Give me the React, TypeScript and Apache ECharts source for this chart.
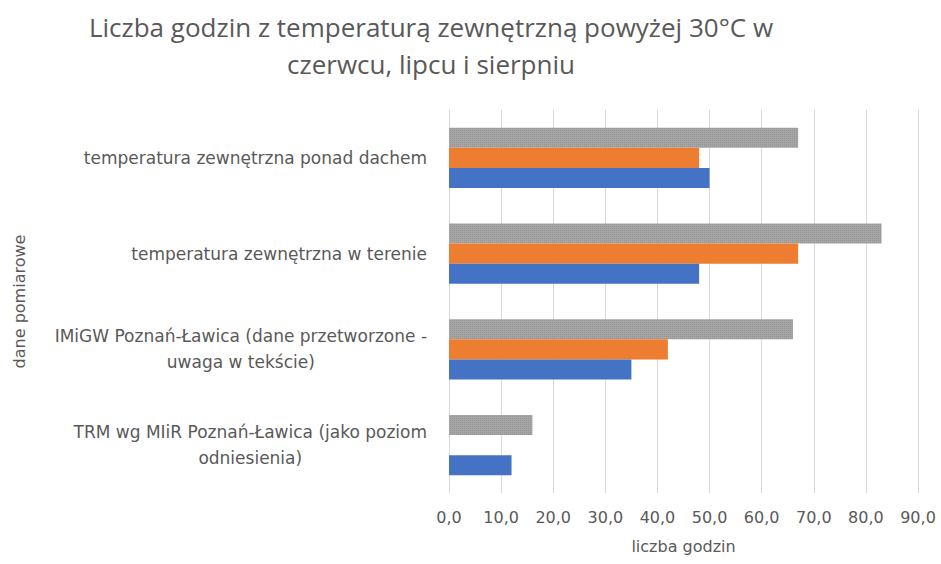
import React, { useEffect, useRef } from "react";
import * as echarts from "echarts";

const titleLines = [
  "Liczba godzin z temperaturą zewnętrzną powyżej 30°C w",
  "czerwcu, lipcu i sierpniu",
];
const categories = [
  "TRM wg MIiR Poznań-Ławica (jako poziom\nodniesienia)",
  "IMiGW Poznań-Ławica (dane przetworzone -\nuwaga w tekście)",
  "temperatura zewnętrzna w terenie",
  "temperatura zewnętrzna ponad dachem",
];
const seriesNames = ["Seria1", "Seria2", "Seria3"];
const blueValues = [12, 35, 48, 50];
const orangeValues = [0, 42, 67, 48];
const grayValues = [16, 66, 83, 67];
const xTicks = { min: 0, max: 90, interval: 10 };
const xAxisName = "liczba godzin";
const yAxisName = "dane pomiarowe";

const TEXT = "#595959";
const TITLE_FONT = "'Open Sans', 'Noto Sans', sans-serif";
const FONT = "'DejaVu Sans', 'Noto Sans', sans-serif";

export default function App() {
  const ref = useRef<HTMLDivElement>(null);
  useEffect(() => {
    if (!ref.current) return;
    const chart = echarts.init(ref.current, null, { renderer: "svg" });
    chart.setOption({
      animation: false,
      backgroundColor: "#ffffff",
      title: {
        text: titleLines.join("\n"),
        left: 431,
        top: 8,
        textAlign: "center",
        padding: 0,
        textStyle: {
          color: TEXT,
          fontFamily: TITLE_FONT,
          fontSize: 26,
          fontWeight: "normal",
          lineHeight: 37,
        },
      },
      grid: { left: 449, right: 23, top: 110, bottom: 71, containLabel: false },
      xAxis: {
        type: "value",
        min: xTicks.min,
        max: xTicks.max,
        interval: xTicks.interval,
        name: xAxisName,
        nameLocation: "middle",
        nameGap: 45,
        nameTextStyle: { color: TEXT, fontFamily: FONT, fontSize: 16 },
        axisLine: { show: false },
        axisTick: { show: false },
        axisLabel: {
          color: TEXT,
          fontFamily: FONT,
          fontSize: 16,
          margin: 16,
          formatter: (v: number) => v.toFixed(1).replace(".", ","),
        },
        splitLine: { show: true, lineStyle: { color: "#d9d9d9", width: 1 } },
      },
      yAxis: {
        type: "category",
        data: categories,
        name: yAxisName,
        nameLocation: "middle",
        nameGap: 422,
        nameRotate: 90,
        nameTextStyle: { color: TEXT, fontFamily: FONT, fontSize: 16 },
        axisLine: { show: true, lineStyle: { color: "#d9d9d9", width: 1 } },
        axisTick: { show: false },
        splitLine: { show: false },
        axisLabel: {
          color: TEXT,
          fontFamily: FONT,
          fontSize: 17,
          margin: 22,
          lineHeight: 26,
          align: "right",
          formatter: (v: string) =>
            v
              .split("\n")
              .map((l) => "{c|" + l + "}")
              .join("\n"),
          rich: {
            c: {
              align: "center",
              color: TEXT,
              fontFamily: FONT,
              fontSize: 17,
              lineHeight: 26,
            },
          },
        },
      },
      series: [
        {
          name: seriesNames[2],
          type: "bar",
          data: grayValues,
          barCategoryGap: "37%",
          barGap: "0%",
          itemStyle: {
            color: "#a5a5a5",
            decal: {
              symbol: "rect",
              symbolSize: 1,
              dashArrayX: [1, 1],
              dashArrayY: [1, 1],
              color: "rgba(120,120,120,0.35)",
              rotation: 0,
            },
          },
        },
        {
          name: seriesNames[1],
          type: "bar",
          data: orangeValues,
          barCategoryGap: "37%",
          barGap: "0%",
          itemStyle: { color: "#ed7d31" },
        },
        {
          name: seriesNames[0],
          type: "bar",
          data: blueValues,
          barCategoryGap: "37%",
          barGap: "0%",
          itemStyle: { color: "#4472c4" },
        },
      ],
    });
    return () => chart.dispose();
  }, []);
  return (
    <div
      ref={ref}
      style={{ position: "fixed", left: 0, top: 0, width: 941, height: 564 }}
    />
  );
}
